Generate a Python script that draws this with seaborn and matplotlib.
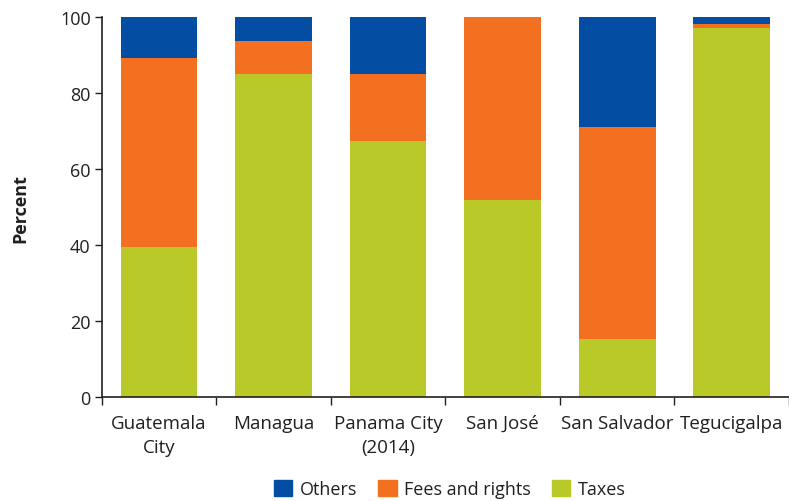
import seaborn as sns
import numpy as np
import pandas as pd
import matplotlib.pyplot as plt
from matplotlib.patches import Patch

sns.set_style("white")
plt.rcParams["font.family"] = ["Open Sans", "DejaVu Sans"]

# data (percent of revenue)
cities = ["Guatemala\nCity", "Managua", "Panama City\n(2014)", "San José", "San Salvador", "Tegucigalpa"]
taxes = [39.6, 85.1, 67.4, 51.9, 15.3, 97.0]
fees = [49.7, 8.7, 17.7, 48.1, 55.9, 1.2]
others = [10.7, 6.2, 14.9, 0.0, 28.8, 1.8]

colors = {"Others": "#034ea2", "Fees and rights": "#f37021", "Taxes": "#b9ca28"}

df = pd.DataFrame({"city": cities, "Taxes": taxes, "Fees and rights": fees, "Others": others})
df["top_fees"] = df["Taxes"] + df["Fees and rights"]
df["top_others"] = df["top_fees"] + df["Others"]

fig = plt.figure(figsize=(7.89, 5.02), dpi=100)
ax = fig.add_axes([0.129, 0.2066, 0.871, 0.7574])

# stacked bars drawn as overlapping cumulative heights
for col, name in [("top_others", "Others"), ("top_fees", "Fees and rights"), ("Taxes", "Taxes")]:
    sns.barplot(data=df, x="city", y=col, color=colors[name], width=0.67,
                saturation=1, ax=ax, linewidth=0)

ax.set_xlim(-0.5, 5.5)
ax.set_ylim(0, 100)
ax.set_yticks([0, 20, 40, 60, 80, 100])
ax.tick_params(axis="y", labelsize=13, length=5, width=1, colors="#231f20", pad=3, left=True)

# ticks at category boundaries, labels centred
ax.set_xticks(np.arange(-0.5, 6, 1))
ax.set_xticklabels([])
ax.set_xticks(np.arange(6), minor=True)
ax.set_xticklabels(cities, minor=True, fontsize=13.5, color="#231f20", linespacing=1.45)
ax.tick_params(axis="x", which="major", length=6, width=1, bottom=True, color="#231f20")
ax.tick_params(axis="x", which="minor", length=0, pad=12)

ax.set_xlabel("")
ax.set_ylabel("Percent", fontsize=13, fontweight="bold", color="#231f20", labelpad=22)

sns.despine(ax=ax)
for s in ["left", "bottom"]:
    ax.spines[s].set_color("#231f20")
    ax.spines[s].set_linewidth(1.2)

handles = [Patch(color=colors[n], label=n) for n in ["Others", "Fees and rights", "Taxes"]]
fig.legend(handles=handles, loc="center", bbox_to_anchor=(0.57, 0.024), ncol=3,
           frameon=False, fontsize=13, handlelength=1.0, handleheight=1.0,
           handletextpad=0.4, columnspacing=1.2, labelcolor="#231f20")

fig.savefig("out.png", dpi=100)
